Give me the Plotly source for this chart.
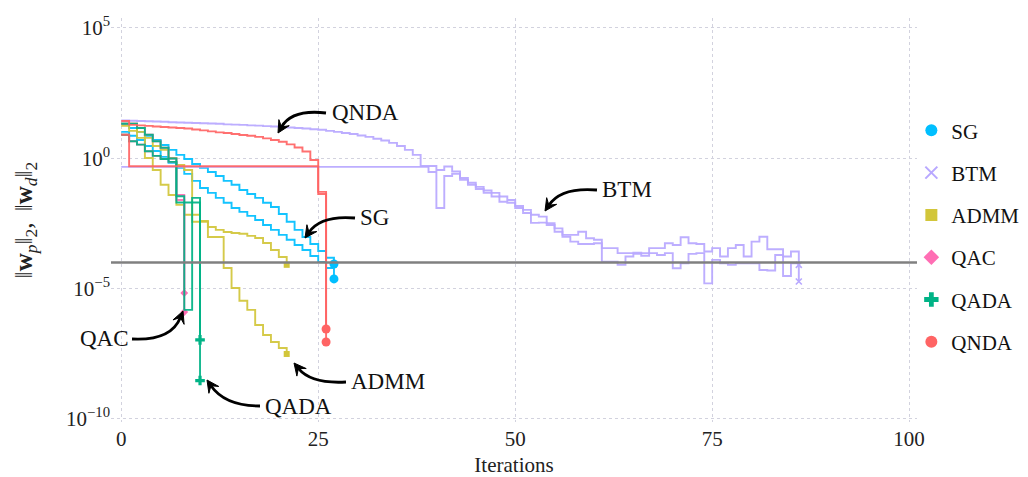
import math
import plotly.graph_objects as go

# ---------------------------------------------------------------------------
# Data: log10 of ||w_p||_2 and ||w_d||_2 per iteration
# ---------------------------------------------------------------------------
SG_wp = [1.32, 1.16, 1.01, 0.86, 0.70, 0.51, 0.32, 0.13, -0.03, -0.22, -0.37, -0.53, -0.68, -0.87,
         -1.02, -1.22, -1.37, -1.52, -1.71, -1.87, -2.14, -2.44, -2.75, -3.02, -3.29, -3.56, -3.82, -4.06]
SG_wd = [1.01, 0.86, 0.70, 0.47, 0.28, 0.05, -0.18, -0.37, -0.60, -0.87, -1.14, -1.33, -1.52, -1.71,
         -1.91, -2.06, -2.21, -2.37, -2.56, -2.75, -2.94, -3.13, -3.33, -3.52, -3.75, -3.98, -4.21, -4.63]

BTM_wp = [1.45, 1.44, 1.43, 1.42, 1.41, 1.40, 1.38, 1.37, 1.36, 1.35, 1.34, 1.33, 1.32, 1.30, 1.29,
          1.28, 1.26, 1.25, 1.23, 1.22, 1.20, 1.18, 1.16, 1.14, 1.11, 1.09, 1.05, 1.01, 0.97, 0.93,
          0.87, 0.82, 0.75, 0.68, 0.59, 0.47, 0.32, 0.13,
          -0.30, -0.30, -0.45, -0.32, -0.51, -0.76, -0.94, -1.10, -1.24, -1.33, -1.47, -1.60, -1.83,
          -1.98, -2.17, -2.24, -2.49, -2.69, -2.94, -2.94, -2.82, -3.07, -3.13, -3.45, -3.45, -3.64,
          -3.64, -3.62, -3.64, -3.45, -3.45, -3.26, -3.33, -3.03, -3.26, -3.29, -3.58, -3.45, -3.77,
          -3.45, -3.33, -3.77, -3.20, -3.01, -3.49, -3.49, -3.77, -3.58, -4.09]
BTM_wd = [-0.33, -0.33, -0.33, -0.33, -0.33, -0.33, -0.33, -0.33, -0.33, -0.33, -0.33, -0.33, -0.33,
          -0.33, -0.33, -0.33, -0.33, -0.33, -0.33, -0.33, -0.33, -0.33, -0.33, -0.33, -0.33, -0.33,
          -0.33, -0.33, -0.33, -0.33, -0.33, -0.33, -0.33, -0.33, -0.33, -0.33, -0.33, -0.33,
          -0.33, -0.53, -1.91, -0.68, -0.60, -0.83, -1.02, -1.18, -1.33, -1.47, -1.67, -1.71, -1.91,
          -2.10, -2.48, -2.47, -2.56, -2.82, -3.01, -3.20, -3.29, -3.29, -3.26, -3.97, -3.97, -4.09,
          -3.77, -3.67, -3.74, -3.64, -3.71, -3.64, -4.22, -4.03, -3.67, -3.64, -4.80, -3.90, -4.03,
          -4.09, -4.03, -4.03, -4.03, -4.29, -4.31, -3.71, -4.52, -4.03, -4.73]

ADMM_wp = [1.32, 1.32, 1.01, 0.78, 0.47, 0.32, 0.01, -0.26, -0.45, -2.17, -2.41, -2.64, -2.75, -2.83,
           -2.87, -2.90, -2.98, -3.06, -3.25, -3.52, -3.79, -4.09]
ADMM_wd = [1.24, 1.05, 0.78, 0.01, -0.45, -1.02, -1.41, -1.79, -2.17, -2.44, -2.44, -3.02, -3.02,
           -4.21, -4.98, -5.47, -5.82, -6.40, -6.78, -7.05, -7.28, -7.51]

QAC_wp = [1.32, 1.32, 1.16, 0.90, 0.65, 0.40, -0.01, -1.41, -5.17]
QAC_wd = [0.90, 0.65, 0.52, 0.27, 0.09, -0.03, -0.14, -1.60, -5.90]

QADA_wp = [1.32, 1.32, 1.16, 0.90, 0.65, 0.40, -0.01, -1.46, -5.82, -1.52, -8.53]
QADA_wd = [0.90, 0.65, 0.52, 0.27, 0.09, -0.03, -0.14, -1.70, -1.70, -1.70, -6.97]

QNDA_wp = [1.43, 1.28, 1.26, 1.24, 1.22, 1.20, 1.18, 1.16, 1.14, 1.10, 1.07, 1.03, 0.99, 0.97,
           0.93, 0.89, 0.86, 0.82, 0.76, 0.70, 0.63, 0.53, 0.41, 0.26, -0.07, -1.29, -6.55]
QNDA_wd = [0.90, -0.31, -0.31, -0.31, -0.31, -0.31, -0.31, -0.31, -0.31, -0.31, -0.31, -0.31, -0.31,
           -0.31, -0.31, -0.31, -0.31, -0.31, -0.31, -0.31, -0.31, -0.31, -0.31, -0.31, -0.31,
           -1.37, -7.05]

METHODS = ["SG", "BTM", "ADMM", "QAC", "QADA", "QNDA"]
SERIES = {
    "SG": (SG_wp, SG_wd),
    "BTM": (BTM_wp, BTM_wd),
    "ADMM": (ADMM_wp, ADMM_wd),
    "QAC": (QAC_wp, QAC_wd),
    "QADA": (QADA_wp, QADA_wd),
    "QNDA": (QNDA_wp, QNDA_wd),
}
THRESHOLD = 1e-4
X_RANGE = [-1.3, 101.0]
Y_RANGE_LOG = [-10.12, 5.38]
X_TICKS = [0, 25, 50, 75, 100]
Y_TICKS = [1e5, 1e0, 1e-5, 1e-10]
Y_TICKTEXT = ["10<sup>5</sup>", "10<sup>0</sup>", "10<sup>−5</sup>", "10<sup>−10</sup>"]

# styles
COLORS = {"SG": "#00BFFF", "BTM": "#B8A8FF", "ADMM": "#D2C63A",
          "QAC": "#FF6EB4", "QADA": "#00B386", "QNDA": "#FF6464"}
SYMBOLS = {"SG": "circle", "BTM": "x-thin", "ADMM": "square",
           "QAC": "diamond", "QADA": "cross", "QNDA": "circle"}
SIZES = {"SG": 9, "BTM": 6, "ADMM": 6, "QAC": 6, "QADA": 8, "QNDA": 9}

FONT = "Liberation Serif"
W, H = 1028, 477
PL, PR, PT, PB = 111, 917, 18, 422  # plot area in pixels

fig = go.Figure()
for m in METHODS:
    wp, wd = SERIES[m]
    it = list(range(len(wp)))
    c = COLORS[m]
    for arr in (wp, wd):
        fig.add_trace(go.Scatter(
            x=it, y=[10 ** v for v in arr], mode="lines", line=dict(color=c, width=1.9, shape="hv"),
            opacity=0.92, showlegend=False, legendgroup=m, hoverinfo="skip"))
    mk = dict(symbol=SYMBOLS[m], size=SIZES[m], color=c)
    if SYMBOLS[m].endswith("thin"):
        mk["line"] = dict(color=c, width=1.6)
    fig.add_trace(go.Scatter(
        x=[it[-1], it[-1]], y=[10 ** wp[-1], 10 ** wd[-1]], mode="markers", marker=mk,
        name=m, legendgroup=m, showlegend=True))

# threshold line across the whole x range
fig.add_trace(go.Scatter(x=X_RANGE, y=[THRESHOLD, THRESHOLD], mode="lines",
                         line=dict(color="#808080", width=2.4), showlegend=False,
                         hoverinfo="skip", cliponaxis=False))


def pp(x, y):
    return (x - PL) / (PR - PL), (PB - y) / (PB - PT)


# curved label arrows: (label, text anchor px, xanchor, start, control, tip)
LABELS = [
    ("QNDA", (330, 112), "left", (326, 113), (292, 109), (278, 133)),
    ("BTM", (600, 189), "left", (597, 190), (561, 187), (545, 211)),
    ("SG", (358, 217), "left", (355, 218), (321, 215), (305, 238)),
    ("QAC", (131, 338), "right", (132, 339), (171, 341), (183, 311)),
    ("QADA", (263, 406), "left", (260, 406), (225, 406), (207, 380)),
    ("ADMM", (349, 381), "left", (346, 382), (311, 384), (294, 363)),
]
for text, (tx, ty), xa, S, C, T in LABELS:
    ax_, ay_ = pp(tx, ty)
    fig.add_annotation(text=text, x=ax_, y=ay_, xref="paper", yref="paper", xanchor=xa,
                       yanchor="middle", showarrow=False, font=dict(family=FONT, size=23, color="#111"))
    dx, dy = T[0] - C[0], T[1] - C[1]
    n = math.hypot(dx, dy)
    dx, dy = dx / n, dy / n
    px_, py_ = -dy, dx
    E = (T[0] - 7 * dx, T[1] - 7 * dy)
    b = (T[0] - 12 * dx, T[1] - 12 * dy)
    c1 = (b[0] + 6 * px_, b[1] + 6 * py_)
    c2 = (b[0] - 6 * px_, b[1] - 6 * py_)
    s, cc, e = pp(*S), pp(*C), pp(*E)
    fig.add_shape(type="path", xref="paper", yref="paper",
                  path=f"M {s[0]} {s[1]} Q {cc[0]} {cc[1]} {e[0]} {e[1]}",
                  line=dict(color="black", width=2.8))
    t, q1, q2 = pp(*T), pp(*c1), pp(*c2)
    fig.add_shape(type="path", xref="paper", yref="paper",
                  path=f"M {t[0]} {t[1]} L {q1[0]} {q1[1]} L {e[0]} {e[1]} L {q2[0]} {q2[1]} Z",
                  line=dict(color="black", width=1), fillcolor="black")

GRID = "#d2d2de"
YTITLE = ("‖<b>w</b><sub><i>p</i></sub>‖<sub>2</sub>,\u2009 "
          "‖<b>w</b><sub><i>d</i></sub>‖<sub>2</sub>")
fig.update_layout(
    width=W, height=H,
    margin=dict(l=PL, r=W - PR, t=PT, b=H - PB, pad=0, autoexpand=False),
    paper_bgcolor="white", plot_bgcolor="white",
    font=dict(family=FONT, size=20, color="#222"),
    xaxis=dict(range=X_RANGE, tickvals=X_TICKS, showgrid=True, gridcolor=GRID, gridwidth=1,
               griddash="dot", zeroline=False, showline=False, ticks="",
               title=dict(text="Iterations", font=dict(size=21), standoff=8),
               tickfont=dict(size=21), ticklabelstandoff=2),
    yaxis=dict(type="log", range=Y_RANGE_LOG, tickvals=Y_TICKS, ticktext=Y_TICKTEXT,
               showgrid=True, gridcolor=GRID, gridwidth=1, griddash="dot", zeroline=False,
               showline=False, ticks="", tickfont=dict(size=21),
               title=dict(text=YTITLE, font=dict(size=25), standoff=26)),
    legend=dict(x=0.993, xanchor="left", y=0.46, yanchor="middle", itemsizing="constant",
                tracegroupgap=12, font=dict(size=21, color="#111"), bgcolor="rgba(0,0,0,0)"),
    showlegend=True,
)

fig.write_html("out.html")
